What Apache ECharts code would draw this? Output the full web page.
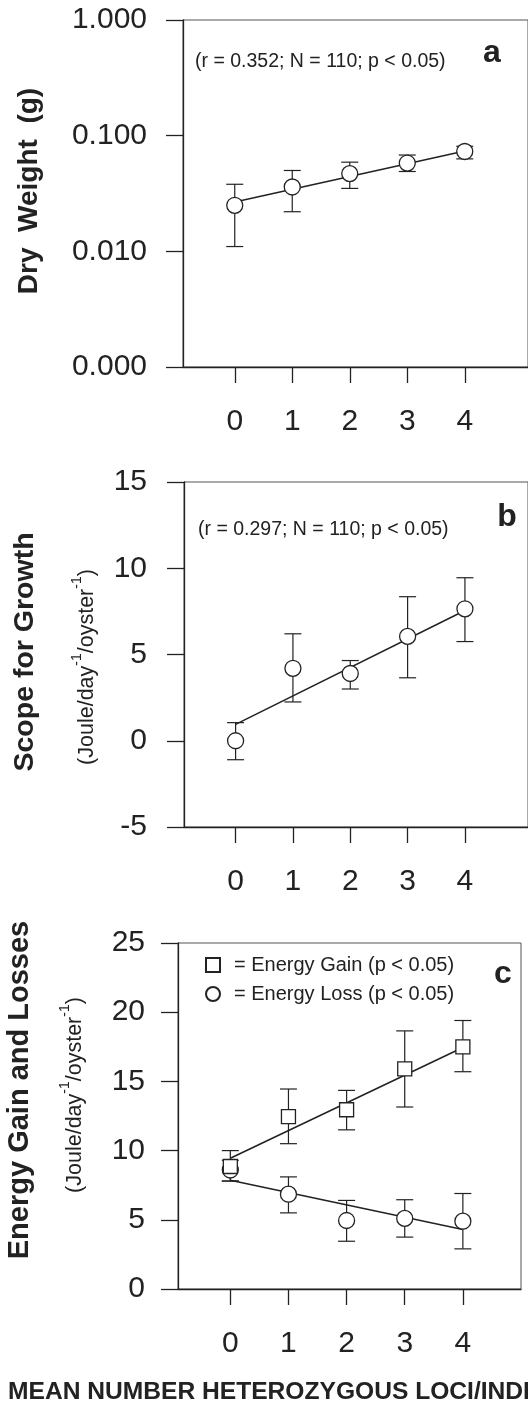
<!DOCTYPE html>
<html>
<head>
<meta charset="utf-8">
<script src="https://cdn.jsdelivr.net/npm/echarts@6/dist/echarts.min.js"></script>
<style>
  html, body { margin: 0; padding: 0; background: #fff; }
  #chart { width: 528px; height: 1409px; }
</style>
</head>
<body>
<div id="chart"></div>
<script>
// x levels shared by all three panels
const xLevels = [0, 1, 2, 3, 4];
const fitX = [0, 4];

// panel a: dry weight (g), log scale
const dryMean = [0.025, 0.036, 0.047, 0.058, 0.073];
const dryLow = [0.011, 0.022, 0.035, 0.049, 0.063];
const dryHigh = [0.038, 0.050, 0.059, 0.068, 0.081];
const dryFit = [0.0267, 0.0736];
const dryTickLabels = ['0.000', '0.010', '0.100', '1.000'];

// panel b: scope for growth
const sfgMean = [0.0, 4.2, 3.9, 6.05, 7.65];
const sfgLow = [-1.1, 2.25, 3.0, 3.65, 5.75];
const sfgHigh = [1.05, 6.2, 4.65, 8.35, 9.45];
const sfgFit = [0.95, 7.55];

// panel c: energy gain and losses
const gainMean = [8.85, 12.45, 12.95, 15.9, 17.5];
const gainLow = [7.8, 10.5, 11.5, 13.15, 15.7];
const gainHigh = [10.0, 14.45, 14.35, 18.65, 19.4];
const gainFit = [9.45, 17.45];
const lossMean = [8.6, 6.85, 4.95, 5.1, 4.9];
const lossLow = [7.8, 5.5, 3.45, 3.75, 2.9];
const lossHigh = [9.3, 8.1, 6.4, 6.45, 6.9];
const lossFit = [7.85, 4.3];

const gainName = '= Energy Gain (p < 0.05)';
const lossName = '= Energy Loss (p < 0.05)';

const INK = '#222';
const FONT = '"Liberation Sans", Arial, sans-serif';

const pts = (ys) => xLevels.map((x, i) => [x, ys[i]]);
const bars = (lo, hi) => xLevels.map((x, i) => [x, lo[i], hi[i]]);
const fit = (ys) => fitX.map((x, i) => [x, ys[i]]);

function errorBar(params, api) {
  const x = api.value(0);
  const lo = api.coord([x, api.value(1)]);
  const hi = api.coord([x, api.value(2)]);
  const w = 8.5;
  const style = { stroke: INK, lineWidth: 1.2 };
  return {
    type: 'group',
    children: [
      { type: 'line', shape: { x1: lo[0], y1: lo[1], x2: hi[0], y2: hi[1] }, style },
      { type: 'line', shape: { x1: hi[0] - w, y1: hi[1], x2: hi[0] + w, y2: hi[1] }, style },
      { type: 'line', shape: { x1: lo[0] - w, y1: lo[1], x2: lo[0] + w, y2: lo[1] }, style }
    ]
  };
}

function xAxisFor(idx, max) {
  return {
    type: 'value', gridIndex: idx, min: -0.9, max: max,
    axisLine: { show: true, onZero: false, lineStyle: { color: INK, width: 1.3 } },
    axisTick: { show: true, customValues: xLevels, length: 16, lineStyle: { color: INK, width: 1.3 } },
    axisLabel: { customValues: xLevels, fontSize: 30, color: INK, fontFamily: FONT, margin: 40 },
    splitLine: { show: false }
  };
}

function yAxisBase(idx, margin) {
  return {
    gridIndex: idx,
    axisLine: { show: true, onZero: false, lineStyle: { color: INK, width: 1.3 } },
    axisTick: { show: true, length: 17, lineStyle: { color: INK, width: 1.3 } },
    axisLabel: { fontSize: 30, color: INK, fontFamily: FONT, margin: margin },
    splitLine: { show: false }
  };
}

function errSeries(idx, lo, hi) {
  return {
    type: 'custom', xAxisIndex: idx, yAxisIndex: idx, renderItem: errorBar,
    data: bars(lo, hi), encode: { x: 0, y: [1, 2] }, z: 2, silent: true
  };
}
function fitSeries(idx, ys) {
  return {
    type: 'line', xAxisIndex: idx, yAxisIndex: idx, data: fit(ys), showSymbol: false,
    lineStyle: { color: INK, width: 1.5 }, z: 2, silent: true
  };
}
function markSeries(idx, ys, symbol, size, name) {
  return {
    type: 'scatter', name: name, xAxisIndex: idx, yAxisIndex: idx, data: pts(ys),
    symbol: symbol, symbolSize: size, z: 4,
    itemStyle: { color: '#fff', borderColor: INK, borderWidth: 1.3, opacity: 1 }
  };
}

const subRich = {
  m: { fontSize: 21.5, fontFamily: FONT, fill: INK, color: INK, lineHeight: 28, verticalAlign: 'bottom' },
  s: { fontSize: 14, fontFamily: FONT, fill: INK, color: INK, lineHeight: 14, verticalAlign: 'top' }
};
const subText = '{m|(Joule/day}{s|-1}{m|/oyster}{s|-1}{m|)}';

function vText(x, y, text, size, weight, rich) {
  return {
    type: 'text', x: x, y: y, rotation: Math.PI / 2,
    style: {
      text: text, fontSize: size, fontWeight: weight, fontFamily: FONT, fill: INK,
      align: 'center', verticalAlign: 'middle', textAlign: 'center', textVerticalAlign: 'middle',
      rich: rich
    }
  };
}
function hText(x, y, text, size, weight, align) {
  return {
    type: 'text', x: x, y: y,
    style: {
      text: text, fontSize: size, fontWeight: weight, fontFamily: FONT, fill: INK,
      align: align, verticalAlign: 'middle', textAlign: align, textVerticalAlign: 'middle'
    }
  };
}

const chart = echarts.init(document.getElementById('chart'));
chart.setOption({
  animation: false,
  backgroundColor: '#fff',
  grid: [
    { left: 183, top: 20, width: 348, height: 347, show: true, borderColor: '#555', borderWidth: 1 },
    { left: 184, top: 482, width: 348, height: 345, show: true, borderColor: '#555', borderWidth: 1 },
    { left: 178, top: 943, width: 343, height: 346, show: true, borderColor: '#555', borderWidth: 1 }
  ],
  xAxis: [xAxisFor(0, 5.1), xAxisFor(1, 5.1), xAxisFor(2, 5.0)],
  yAxis: [
    Object.assign(yAxisBase(0, 36), {
      type: 'log', logBase: 10, min: 0.001, max: 1,
      axisLabel: {
        fontSize: 30, color: INK, fontFamily: FONT, margin: 36,
        formatter: (v) => dryTickLabels[Math.round(Math.log10(v)) + 3]
      }
    }),
    Object.assign(yAxisBase(1, 37), { type: 'value', min: -5, max: 15, interval: 5 }),
    Object.assign(yAxisBase(2, 33), { type: 'value', min: 0, max: 25, interval: 5 })
  ],
  legend: {
    data: [gainName, lossName], orient: 'vertical', left: 200, top: 950,
    itemWidth: 14, itemHeight: 14, itemGap: 9, selectedMode: false,
    textStyle: { fontSize: 20, color: INK, fontFamily: FONT, padding: [0, 0, 0, 9] }
  },
  series: [
    errSeries(0, dryLow, dryHigh),
    fitSeries(0, dryFit),
    markSeries(0, dryMean, 'circle', 16, 'dry'),

    errSeries(1, sfgLow, sfgHigh),
    fitSeries(1, sfgFit),
    markSeries(1, sfgMean, 'circle', 16, 'sfg'),

    errSeries(2, lossLow, lossHigh),
    errSeries(2, gainLow, gainHigh),
    fitSeries(2, lossFit),
    fitSeries(2, gainFit),
    markSeries(2, lossMean, 'circle', 16, lossName),
    Object.assign(markSeries(2, gainMean, 'rect', 14, gainName), { z: 5 })
  ],
  graphic: [
    vText(29, 191, 'Dry  Weight  (g)', 28, 'bold'),
    hText(195, 62, '(r = 0.352; N = 110; p < 0.05)', 19.5, 'normal', 'left'),
    hText(492, 53, 'a', 32, 'bold', 'center'),

    vText(25, 652, 'Scope for Growth', 28.5, 'bold'),
    vText(84, 667, subText, 21.5, 'normal', subRich),
    hText(198, 530, '(r = 0.297; N = 110; p < 0.05)', 19.5, 'normal', 'left'),
    hText(507, 517, 'b', 32, 'bold', 'center'),

    vText(20, 1090, 'Energy Gain and Losses', 29, 'bold'),
    vText(72, 1095, subText, 21.5, 'normal', subRich),
    hText(503, 974, 'c', 32, 'bold', 'center'),

    hText(8, 1392, 'MEAN NUMBER HETEROZYGOUS LOCI/INDIVIDUAL', 24.6, 'bold', 'left')
  ]
});
</script>
</body>
</html>
